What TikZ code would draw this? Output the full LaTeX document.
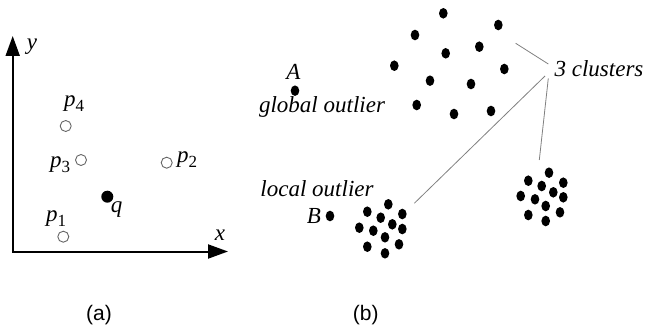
\documentclass[tikz,border=0pt]{standalone}
\usepackage{fontspec}
\setmainfont{Liberation Serif}
\newfontfamily\capfont{Liberation Sans}
\usetikzlibrary{arrows.meta,shapes.geometric}
\newcommand{\psub}[2]{#1\raisebox{-0.45ex}{\upshape\fontsize{17}{17}\selectfont #2}}

\begin{document}
\begin{tikzpicture}[x=1pt, y=-1pt, font=\fontsize{23}{27}\selectfont\itshape,
  dot/.style={ellipse, fill, minimum width=8.6pt, minimum height=10.6pt, inner sep=0pt},
  hole/.style={circle, draw=gray!80!black, line width=0.9pt, minimum size=11pt, inner sep=0pt},
  axis/.style={line width=2pt, {Triangle[length=20pt,width=14pt]}-{Triangle[length=20pt,width=14pt]}},
  lead/.style={gray, line width=0.8pt},
  tag/.style={font=\capfont\fontsize{21}{24}\selectfont}]
  \useasboundingbox (0,0) rectangle (647,334);
  % (a) points around q
  \coordinate (o) at (12.7,251.5);
  \coordinate (ytip) at (12.7,36);
  \coordinate (xtip) at (228,251.5);
  \draw[axis] (ytip) -- (o) -- (xtip);
  \node (ylab) at (32,47) {y};
  \node (xlab) at (220,235) {x};
  \node[hole] (p1) at (63.3,236.7) {};
  \node[hole] (p2) at (166.7,162.7) {};
  \node[hole] (p3) at (81,160) {};
  \node[hole] (p4) at (65.7,126) {};
  \node[dot, ellipse, minimum width=12pt, minimum height=12pt] (q) at (107.3,196.7) {};
  \node (p1lab) at (56,219) {\psub{p}{1}};
  \node (p2lab) at (187,160) {\psub{p}{2}};
  \node (p3lab) at (60,165) {\psub{p}{3}};
  \node (p4lab) at (74,104) {\psub{p}{4}};
  \node (qlab) at (116.7,210) {q};
  % (b) outliers and clusters
  \node[dot] (A) at (295,90.7) {};
  \node (Alab) at (293.3,72) {A};
  \node (glob) at (322,107) {global outlier};
  \node[dot] (B) at (330,216) {};
  \node (Blab) at (314,216) {B};
  \node (loc) at (317,189) {local outlier};
  \foreach \x/\y [count=\i] in {443.3/13.3, 498.3/25, 415/35, 479.3/46.7, 445.7/53.3, 394.3/65.7,
      504.3/69, 430/80.7, 471/84, 416.7/105, 454/114, 491/111}
    \node[dot] (c1-\i) at (\x,\y) {};
  \foreach \x/\y [count=\i] in {388.3/204.3, 367.3/211.7, 402.3/214, 380.7/217.7, 392.3/224.3, 359.3/227.7,
      373.3/230.7, 402.3/229, 385/237.3, 367.3/246.7, 399/244.3, 385/253.3}
    \node[dot] (c2-\i) at (\x,\y) {};
  \foreach \x/\y [count=\i] in {549/172.7, 528.3/180.7, 563.3/182.7, 541.7/186, 520.7/196, 553.3/192.3,
      563.3/197.3, 535/199.3, 545.7/206, 528.3/215, 560/212.3, 545.7/221}
    \node[dot] (c3-\i) at (\x,\y) {};
  \node (clus) at (599,69) {3 clusters};
  \coordinate (c1end) at (515.7,43.3);
  \coordinate (c2end) at (414.3,203.3);
  \coordinate (c3end) at (539.3,160);
  \draw[lead] (548.3,64) coordinate (k1) -- (c1end);
  \draw[lead] (545,76) coordinate (k2) -- (c2end);
  \draw[lead] (548.3,78.3) coordinate (k3) -- (c3end);
  % captions
  \node[tag] (capa) at (99,315.5) {(a)};
  \node[tag] (capb) at (365.7,315.5) {(b)};
\end{tikzpicture}
\end{document}
